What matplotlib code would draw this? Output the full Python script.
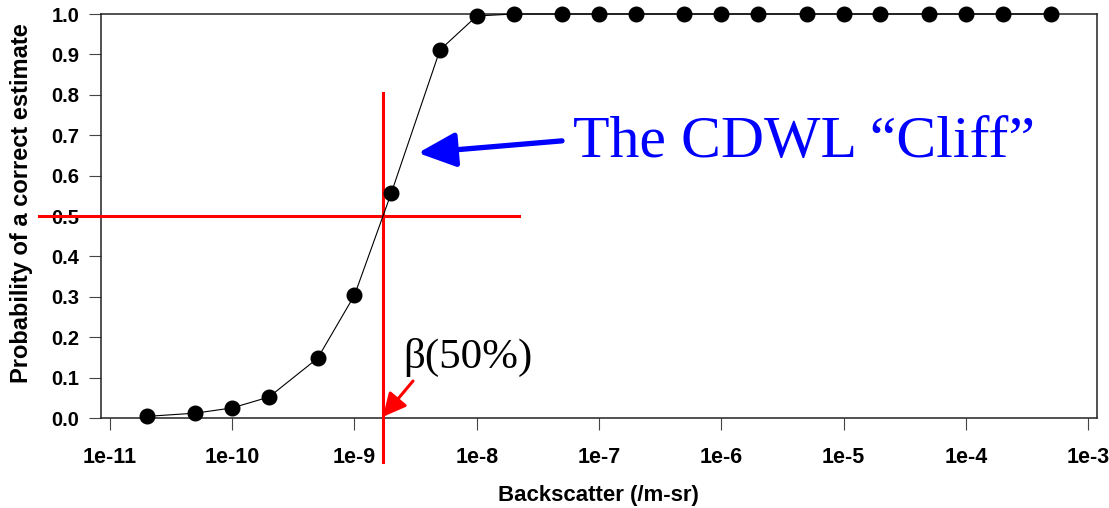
import matplotlib
matplotlib.use("Agg")
import matplotlib.pyplot as plt
import numpy as np

# data
backscatter = [2e-11, 5e-11, 1e-10, 2e-10, 5e-10, 1e-9, 2e-9, 5e-9, 1e-8, 2e-8,
               5e-8, 1e-7, 2e-7, 5e-7, 1e-6, 2e-6, 5e-6, 1e-5, 2e-5, 5e-5,
               1e-4, 2e-4, 5e-4]
probability = [0.004, 0.012, 0.025, 0.052, 0.148, 0.304, 0.557, 0.911, 0.995, 1.0,
               1.0, 1.0, 1.0, 1.0, 1.0, 1.0, 1.0, 1.0, 1.0, 1.0,
               1.0, 1.0, 1.0]
x_ticks = [1e-11, 1e-10, 1e-9, 1e-8, 1e-7, 1e-6, 1e-5, 1e-4, 1e-3]
x_tick_labels = ["1e-11", "1e-10", "1e-9", "1e-8", "1e-7", "1e-6", "1e-5", "1e-4", "1e-3"]
y_ticks = [0.0, 0.1, 0.2, 0.3, 0.4, 0.5, 0.6, 0.7, 0.8, 0.9, 1.0]
y_tick_labels = ["0.0", "0.1", "0.2", "0.3", "0.4", "0.5", "0.6", "0.7", "0.8", "0.9", "1.0"]
beta50 = 1.71e-9      # backscatter where the curve crosses 50 %

plt.rcParams['font.family'] = ['Liberation Sans', 'DejaVu Sans']

W, H = 1109, 508
fig = plt.figure(figsize=(W / 100, H / 100), dpi=100)
ax = fig.add_axes([101 / W, 1 - 418 / H, (1097 - 101) / W, (418 - 14) / H])

ax.plot(backscatter, probability, color="black", linewidth=0.8,
        marker="o", markersize=10.5, clip_on=False, zorder=5)

ax.set_xscale("log")
ax.set_xlim(10 ** -11.0736, 10 ** -2.9264)
ax.set_ylim(0, 1)
ax.set_xticks(x_ticks)
ax.set_xticklabels(x_tick_labels)
ax.set_yticks(y_ticks)
ax.set_yticklabels(y_tick_labels)
ax.minorticks_off()
ax.tick_params(axis="both", direction="out", length=8.6, width=0.8, color="#444444")
ax.tick_params(axis="x", labelsize=15.5, pad=12)
ax.tick_params(axis="y", labelsize=14.5, pad=7)
for lab in ax.get_xticklabels() + ax.get_yticklabels():
    lab.set_fontweight("bold")
for sp in ax.spines.values():
    sp.set_linewidth(1.1)
    sp.set_color("#222222")

ax.set_xlabel("Backscatter (/m-sr)", fontsize=16, fontweight="bold")
ax.set_ylabel("Probability of a correct estimate", fontsize=17, fontweight="bold")
ax.yaxis.set_label_coords(-68 / (1097 - 101), (418 - 203) / (418 - 14))
ax.xaxis.set_label_coords((598 - 101) / (1097 - 101), -(485 - 418) / (418 - 14))

# red cross-hair at the 50 % point
ax.plot([beta50, beta50], [-0.109, 0.804], color="red", linewidth=2.2, clip_on=False, zorder=4)
ax.plot([10 ** -11.58, 10 ** -7.654], [0.5, 0.5], color="red", linewidth=2.2, clip_on=False, zorder=4)

# blue "cliff" label with arrow
ax.annotate("", xy=(10 ** -8.4806, 0.656), xytext=(10 ** -7.3027, 0.686),
            arrowprops=dict(arrowstyle="-|>,head_length=2.3,head_width=1.05",
                            mutation_scale=10, color="blue", linewidth=3.8,
                            shrinkA=0, shrinkB=0))
ax.text(10 ** -7.2127, 0.646, "The CDWL \u201cCliff\u201d", color="blue",
        fontsize=43, family=["Liberation Serif", "DejaVu Serif"],
        ha="left", va="baseline")

# beta(50%) label with red arrow
ax.text(10 ** -8.603, 0.124, "\u03b2(50%)", color="black",
        fontsize=31, family=["Liberation Serif", "DejaVu Serif"],
        ha="left", va="baseline")
ax.annotate("", xy=(beta50, 0.003), xytext=(10 ** -8.5215, 0.0916),
            arrowprops=dict(arrowstyle="-|>,head_length=1.4,head_width=0.7",
                            mutation_scale=10, color="red", linewidth=2.2,
                            shrinkA=0, shrinkB=0),
            annotation_clip=False)

fig.savefig("out.png", dpi=100)
